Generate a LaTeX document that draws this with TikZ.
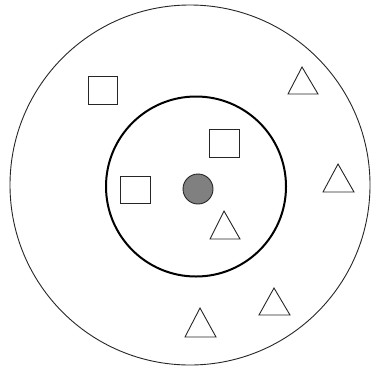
\documentclass[tikz,border=0pt]{standalone}
\begin{document}
\begin{tikzpicture}[x=1pt,y=-1pt,
  thinline/.style={draw=black!85,line width=0.9pt},
  sq/.style={thinline},
  tri/.style={thinline,line join=miter}]
\useasboundingbox[fill=white] (0,0) rectangle (371,367);
% outer circle
\draw[thinline] (190,185) circle[radius=180];
% inner circle
\draw[draw=black,line width=2pt] (196,186.5) circle[radius=90];
% central dot
\draw[fill=black!50,draw=black!85,line width=0.9pt] (198,189) circle[radius=15];
% squares
\draw[sq] (88,76) rectangle (117,104);
\draw[sq] (209,129) rectangle (239,157);
\draw[sq] (120,176) rectangle (150,203);
% triangles
\draw[tri] (302,67) -- (318,94) -- (288,94) -- cycle;
\draw[tri] (338,164) -- (354,192) -- (323,192) -- cycle;
\draw[tri] (224,211) -- (240,239) -- (210,239) -- cycle;
\draw[tri] (274,288) -- (290,315) -- (259,315) -- cycle;
\draw[tri] (200,308) -- (216,337) -- (185,337) -- cycle;
\end{tikzpicture}
\end{document}
